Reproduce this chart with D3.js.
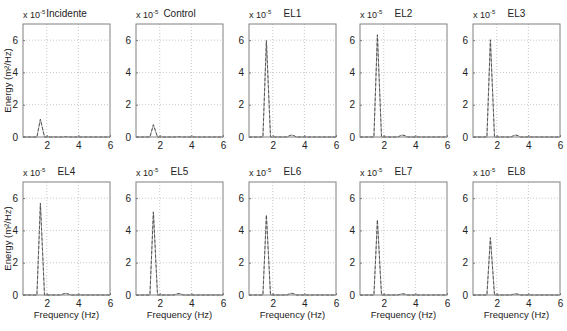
<!DOCTYPE html>
<html>
<head>
<meta charset="utf-8">
<script src="https://cdn.jsdelivr.net/npm/d3@7"></script>
<style>
body { margin: 0; background: #fff; }
text { font-family: "Liberation Sans", Arial, sans-serif; fill: #222; }
</style>
</head>
<body>
<div id="chart"></div>
<script>
// panel titles, in reading order
var titles = ["Incidente", "Control", "EL1", "EL2", "EL3", "EL4", "EL5", "EL6", "EL7", "EL8"];
// frequency points (Hz)
var freq = [0.5, 1.38, 1.6, 1.86, 2.9, 3.05, 3.2, 3.35, 3.5, 6.0];
// energy values (x 10^-5 m2/Hz) for each panel
var incidente = [0, 0, 1.1, 0, 0, 0, 0.02, 0, 0, 0];
var control   = [0, 0, 0.76, 0, 0, 0, 0.02, 0, 0, 0];
var el1 = [0, 0, 5.97, 0, 0, 0.08, 0.12, 0.08, 0, 0];
var el2 = [0, 0, 6.33, 0, 0, 0.08, 0.12, 0.08, 0, 0];
var el3 = [0, 0, 6.02, 0, 0, 0.08, 0.12, 0.08, 0, 0];
var el4 = [0, 0, 5.68, 0, 0, 0.07, 0.1, 0.07, 0, 0];
var el5 = [0, 0, 5.15, 0, 0, 0.06, 0.09, 0.06, 0, 0];
var el6 = [0, 0, 4.95, 0, 0, 0.07, 0.1, 0.07, 0, 0];
var el7 = [0, 0, 4.65, 0, 0, 0.05, 0.07, 0.05, 0, 0];
var el8 = [0, 0, 3.55, 0, 0, 0.05, 0.07, 0.05, 0, 0];
var series = [incidente, control, el1, el2, el3, el4, el5, el6, el7, el8];
var xTicks = [2, 4, 6];
var yTicks = [0, 2, 4, 6];

var W = 567, H = 331;
var svg = d3.select("#chart").append("svg")
    .attr("width", W)
    .attr("height", H);

// box positions per column / row
var colLeft = [23, 136, 249, 360, 473];
var boxW = 87;
var rowTop = [24, 182];
var boxH = 113;

series.forEach(function(vals, i){
    var col = i % 5, row = Math.floor(i / 5);
    var g = svg.append("g")
        .attr("transform", "translate(" + colLeft[col] + "," + rowTop[row] + ")");

    var x = d3.scaleLinear().domain([0.5, 6]).range([0, boxW]);
    var y = d3.scaleLinear().domain([0, 7]).range([boxH, 0]);

    // dotted grid
    g.selectAll(".gx").data([2, 4]).enter().append("line")
        .attr("x1", function(d){ return x(d); })
        .attr("x2", function(d){ return x(d); })
        .attr("y1", 0).attr("y2", boxH)
        .style("stroke", "#c8c8c8")
        .style("stroke-dasharray", "1,2");
    g.selectAll(".gy").data([2, 4, 6]).enter().append("line")
        .attr("x1", 0).attr("x2", boxW)
        .attr("y1", function(d){ return y(d); })
        .attr("y2", function(d){ return y(d); })
        .style("stroke", "#c8c8c8")
        .style("stroke-dasharray", "1,2");

    var line = d3.line()
        .x(function(d, j){ return x(freq[j]); })
        .y(function(d){ return y(d); });

    g.append("path")
        .datum(vals)
        .attr("d", line)
        .style("fill", "none")
        .style("stroke", "#a0a0a0")
        .style("stroke-width", 1);
    g.append("path")
        .datum(vals)
        .attr("d", line)
        .style("fill", "none")
        .style("stroke", "#444")
        .style("stroke-width", 0.8)
        .style("stroke-dasharray", "3,2");

    // axes
    var xAxis = d3.axisBottom(x).tickValues(xTicks).tickFormat(d3.format("d")).tickSize(-2).tickPadding(5);
    var yAxis = d3.axisLeft(y).tickValues(yTicks).tickFormat(d3.format("d")).tickSize(-2).tickPadding(5);
    var ax = g.append("g").attr("transform", "translate(0," + boxH + ")").call(xAxis);
    var ay = g.append("g").call(yAxis);
    [ax, ay].forEach(function(a){
        a.select(".domain").remove();
        a.selectAll("line").style("stroke", "#777");
        a.selectAll("text").style("font-size", "10px")
            .style("font-family", "Liberation Sans, Arial, sans-serif")
            .attr("fill", "#222");
    });

    // box
    g.append("rect")
        .attr("width", boxW).attr("height", boxH)
        .style("fill", "none")
        .style("stroke", "#808080")
        .style("stroke-width", 1);

    // exponent label
    var ex = g.append("text")
        .attr("x", 0).attr("y", -6)
        .style("font-size", "9px");
    ex.append("tspan").text("x 10");
    ex.append("tspan").attr("dy", -4).style("font-size", "6px").text("-5");

    g.append("text")
        .attr("x", boxW / 2).attr("y", -7)
        .attr("text-anchor", "middle")
        .style("font-size", "10px")
        .text(titles[i]);

    if (col === 0) {
        g.append("text")
            .attr("transform", "translate(-12.5," + (boxH / 2) + ") rotate(-90)")
            .attr("text-anchor", "middle")
            .style("font-size", "9.5px")
            .text("Energy (m²/Hz)");
    }
    if (row === 1) {
        g.append("text")
            .attr("x", boxW / 2).attr("y", boxH + 23)
            .attr("text-anchor", "middle")
            .style("font-size", "9.5px")
            .text("Frequency  (Hz)");
    }
});
</script>
</body>
</html>
